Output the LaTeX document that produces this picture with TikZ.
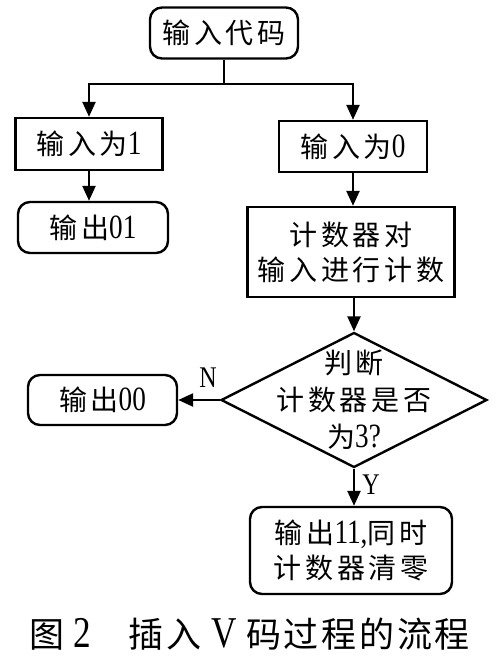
\documentclass[tikz,border=0pt]{standalone}
\usepackage{fontspec}
\setmainfont{Liberation Serif}[FakeStretch=0.8]
\newfontfamily\cjk{Noto Sans CJK SC}[LetterSpace=13]
\newfontfamily\capcjk{Noto Sans CJK SC}[LetterSpace=8]
\usetikzlibrary{shapes.geometric,arrows.meta}
\newcommand\cj[1]{{\cjk #1}}
\newcommand\dg[1]{{\fontsize{34}{34}\selectfont #1}}
\newcommand\cdg[1]{{\fontsize{44}{44}\selectfont #1}}
\begin{document}
\begin{tikzpicture}[x=1pt,y=-1pt,
  base/.style={draw, line width=2.4pt, inner sep=0pt, font=\fontsize{28}{35}\selectfont, align=center},
  rbox/.style={base, rounded corners=12pt},
  sbox/.style={base},
  arr/.style={-{Triangle[length=15pt,width=13pt]}, line width=2.4pt},
  lbl/.style={font=\fontsize{30}{30}\selectfont}]
\useasboundingbox (0,0) rectangle (500,662);
\fill[white] (0,0) rectangle (500,662);
\node[rbox, minimum width=148pt, minimum height=51pt] (start) at (224,33) {\cj{输入代码}};
\node[sbox, minimum width=147pt, minimum height=52pt] (in1) at (89,144) {\cj{输入为}\dg{1}};
\node[rbox, minimum width=150pt, minimum height=51pt] (out01) at (93,227.5) {\cj{输出}\dg{01}};
\node[sbox, minimum width=148pt, minimum height=51pt] (in0) at (353,146.5) {\cj{输入为}\dg{0}};
\node[sbox, minimum width=207pt, minimum height=90pt] (cnt) at (351,252) {\cj{计数器对}\\\cj{输入进行计数}};
\node[draw, diamond, line width=2.4pt, minimum width=266pt, minimum height=135pt, inner sep=0pt] (dec) at (354,400) {};
\node[align=center, font=\fontsize{28}{37}\selectfont] (dect) at (dec.center) {\cj{判断}\\\cj{计数器是否}\\\cj{为}\dg{3?}};
\node[rbox, minimum width=149pt, minimum height=50pt] (out00) at (102.5,400) {\cj{输出}\dg{00}};
\node[rbox, minimum width=202pt, minimum height=87pt] (out11) at (351,550.5) {\cj{输出}\dg{11,}\cj{同时}\\\cj{计数器清零}};
\draw[arr] (start.south) -- ++(0,24) -| (in1.north);
\draw[arr] (start.south) ++(0,24) -| (in0.north);
\draw[arr] (in1.south) -- (in1.south |- out01.north);
\draw[arr] (in0.south) -- (in0.south |- cnt.north);
\draw[arr] (cnt.south -| dec.north) -- (dec.north);
\draw[arr] (dec.west) -- (out00.east);
\draw[arr] (dec.south) -- (dec.south |- out11.north);
\node[lbl] (nl) at (208,378) {N};
\node[lbl] (yl) at (371,485) {Y};
\node[anchor=west, inner sep=0pt, font=\fontsize{35}{35}\selectfont] (cap) at (29,634) {{\capcjk 图}\hspace{9pt}\cdg{2}\hspace{38pt}{\capcjk 插入}\hspace{10pt}\cdg{V}\hspace{9pt}{\capcjk 码过程的流程}};
\end{tikzpicture}
\end{document}
